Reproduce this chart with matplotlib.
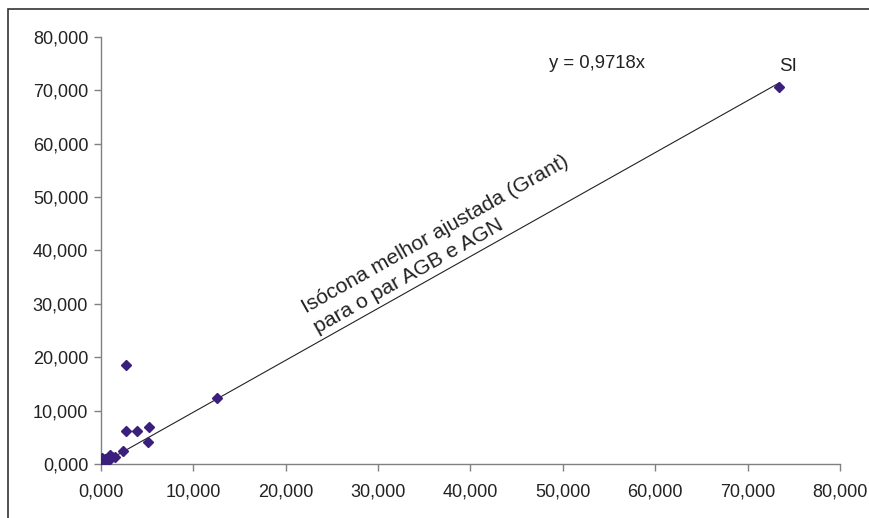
import matplotlib.pyplot as plt
import matplotlib.patches as mpatches
from matplotlib.ticker import FuncFormatter, MultipleLocator

# par AGB (x) e AGN (y)
agb = [0.0, 0.1, 0.3, 0.5, 0.65, 1.0, 1.2, 1.55, 0.2, 0.8, 2.4, 2.7, 2.7, 3.9, 5.1, 5.2, 12.6, 73.4]
agn = [0.0, 1.1, 0.4, 0.9, 0.5, 1.75, 1.3, 1.45, 0.2, 0.8, 2.4, 18.6, 6.25, 6.25, 4.15, 7.05, 12.4, 70.6]
slope = 0.9718
fit_x = [0.0, 73.4]

plt.rcParams['font.family'] = ['Liberation Sans', 'DejaVu Sans']

fig = plt.figure(figsize=(8.69, 5.18), dpi=100)
ax = fig.add_axes([0.1159, 0.1037, 0.8507, 0.8255])

# moldura do gráfico (cortada à direita e em baixo)
fig.patches.append(mpatches.Rectangle((8 / 869, -0.5), 2, 0.9826 + 0.5,
                                      transform=fig.transFigure, fill=False,
                                      edgecolor='#333333', linewidth=1.2))

ax.plot(fit_x, [slope * v for v in fit_x], color='#222222', linewidth=0.8, zorder=2)
ax.plot(agb, agn, linestyle='none', marker='D', markersize=5.5,
        color='#3b1f7d', zorder=3)

ax.set_xlim(0, 80)
ax.set_ylim(0, 80)
ax.xaxis.set_major_locator(MultipleLocator(10))
ax.yaxis.set_major_locator(MultipleLocator(10))
fmt = FuncFormatter(lambda v, p: ('%.3f' % v).replace('.', ','))
ax.xaxis.set_major_formatter(fmt)
ax.yaxis.set_major_formatter(fmt)

for s in ['top', 'right']:
    ax.spines[s].set_visible(False)
for s in ['left', 'bottom']:
    ax.spines[s].set_color('#808080')
    ax.spines[s].set_linewidth(1.0)
ax.tick_params(direction='out', length=5, width=1, color='#808080',
               labelsize=13, labelcolor='#222222', pad=4)
ax.tick_params(axis='x', pad=9)

ax.text(53.7, 75.0, 'y = 0,9718x', fontsize=13.3, color='#222222',
        ha='center', va='center')
ax.text(74.4, 74.5, 'SI', fontsize=13.5, color='#222222',
        ha='center', va='center')

ax.text(23.7, 23.8, 'Isócona melhor ajustada (Grant)\npara o par AGB e AGN',
        fontsize=15.2, color='#222222', rotation=29.4, rotation_mode='anchor',
        ha='left', va='bottom', linespacing=1.3)

plt.savefig('out.png', dpi=100)
